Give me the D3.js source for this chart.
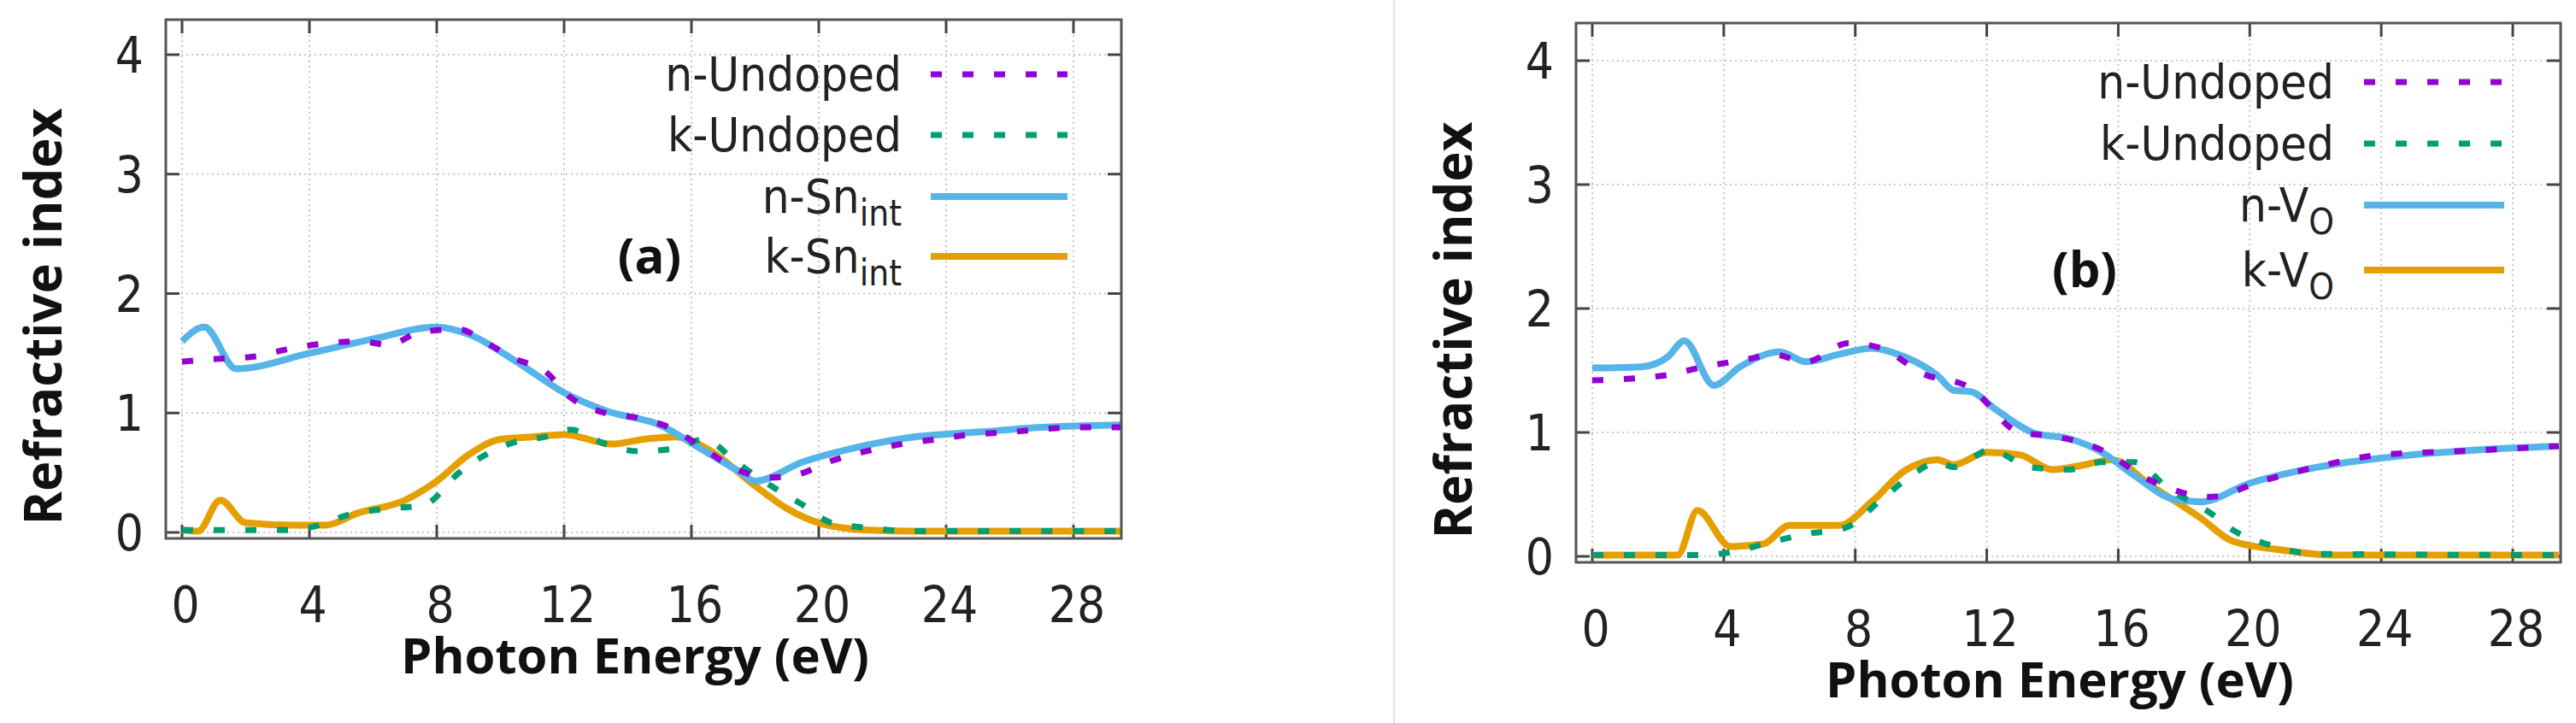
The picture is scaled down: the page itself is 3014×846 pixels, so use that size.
<!DOCTYPE html>
<html><head><meta charset="utf-8">
<script src="https://cdn.jsdelivr.net/npm/d3@7"></script>
<style>
body{margin:0;background:#fff;}
text{font-family:"Liberation Sans Narrow","DejaVu Sans Condensed","DejaVu Sans",sans-serif;font-stretch:condensed;}
.bold{font-family:"Open Sans","DejaVu Sans",sans-serif;font-weight:bold;font-stretch:normal;}
</style></head><body>
<div id="chart"></div>
<script>
// energy (eV), value pairs
const nUndopedA = [[0,1.43],[0.9,1.45],[2.2,1.47],[3.25,1.53],[4.4,1.58],[5.6,1.6],[6.5,1.57],[7.5,1.68],[8.7,1.70],[9.6,1.58],[10.5,1.45],[11.4,1.35],[12.2,1.13],[13.3,1.0],[14.3,0.96],[15.3,0.88],[16.4,0.7],[17.4,0.53],[18.5,0.46],[19.4,0.49],[20.3,0.59],[21.5,0.68],[22.6,0.74],[23.7,0.78],[24.8,0.82],[26,0.84],[27.2,0.87],[28.3,0.88],[29.5,0.88]];
const kUndopedA = [[0,0.02],[3.5,0.02],[4,0.04],[5.4,0.16],[6.5,0.2],[7.6,0.23],[8.7,0.5],[9.6,0.66],[10.5,0.76],[11.4,0.8],[12.2,0.86],[13.3,0.74],[14.3,0.68],[15.4,0.7],[16.4,0.78],[17.4,0.59],[18.5,0.39],[19.5,0.23],[20.4,0.08],[21.5,0.04],[23,0.01],[29.5,0.01]];
const nSnA = [[0,1.6],[0.7,1.72],[1.7,1.37],[4,1.5],[6,1.62],[8,1.72],[9,1.66],[10.5,1.43],[12,1.17],[13.3,1.02],[15,0.9],[16.3,0.7],[17.5,0.51],[18,0.43],[19.5,0.59],[21,0.7],[23,0.8],[25,0.84],[27,0.88],[29.5,0.9]];
const kSnA = [[0,0.02],[0.5,0.01],[1.2,0.27],[2,0.08],[3.5,0.06],[4.5,0.06],[5.5,0.16],[7,0.27],[8,0.43],[9,0.65],[10,0.78],[11,0.8],[12,0.82],[13.5,0.74],[14.5,0.78],[15.5,0.8],[16.5,0.7],[18,0.39],[19,0.2],[20,0.08],[21.5,0.02],[23,0.01],[29.5,0.01]];

const nUndopedB = [[0,1.42],[2.2,1.46],[3.4,1.53],[4.7,1.59],[5.5,1.63],[6.5,1.57],[7.8,1.72],[8.8,1.68],[10,1.48],[11.5,1.36],[13,1.0],[14,0.97],[15.4,0.87],[17,0.61],[18.8,0.48],[20.4,0.61],[22,0.72],[24,0.82],[26.5,0.85],[29.4,0.89]];
const kUndopedB = [[0,0.01],[2.2,0.01],[3.4,0.01],[4.5,0.05],[5.5,0.12],[6.5,0.18],[7.7,0.23],[8.8,0.46],[9.8,0.67],[10.5,0.76],[11,0.72],[12.1,0.86],[13.3,0.72],[14.5,0.7],[15.5,0.76],[16.5,0.76],[17.5,0.55],[18.8,0.35],[19.5,0.21],[20.5,0.1],[22,0.02],[29.4,0.01]];
const nVoB = [[0,1.52],[1.5,1.53],[2.3,1.61],[2.8,1.74],[3.7,1.38],[4.5,1.53],[5.7,1.65],[6.5,1.57],[7.5,1.63],[8.5,1.68],[9.5,1.61],[10.5,1.46],[11,1.34],[11.5,1.33],[12.3,1.18],[13.5,0.99],[14.5,0.95],[15.5,0.84],[16.5,0.65],[17.7,0.46],[18.5,0.44],[20,0.59],[21.5,0.69],[23,0.76],[25,0.82],[27,0.86],[29.4,0.89]];
const kVoB = [[0,0.01],[2.6,0.01],[3.2,0.37],[4.2,0.08],[5.2,0.1],[6,0.25],[7.5,0.25],[8.5,0.44],[9.5,0.69],[10.5,0.78],[11,0.74],[12,0.84],[13,0.82],[14,0.7],[15,0.74],[15.8,0.78],[17,0.57],[18.5,0.31],[19.5,0.12],[21,0.05],[22.5,0.01],[29.4,0.01]];

const xTicks = [0,4,8,12,16,20,24,28];
const yTicks = [0,1,2,3,4];

const W = 3014, H = 846;
const svg = d3.select("#chart").append("svg").attr("width", W).attr("height", H);

svg.append("line").attr("x1",1631).attr("x2",1631).attr("y1",0).attr("y2",846)
  .attr("stroke","#e4e4e4").attr("stroke-width",2);

const panels = [
  {left:194, right:1312, top:23, bottom:630, x0:213, x28:1256, y0:623, y4:64,
   series:[
     {name:"n-Undoped", data:nUndopedA, color:"#9400d3", dash:true},
     {name:"k-Undoped", data:kUndopedA, color:"#009e73", dash:true},
     {name:"n-Sn", sub:"int", data:nSnA, color:"#56b4e9"},
     {name:"k-Sn", sub:"int", data:kSnA, color:"#e69f00"}],
   label:"(a)", labelX:760, legX:1055, legY:[87,158,230,300], sampleX:[1089,1249]},
  {left:1844, right:2996, top:27, bottom:658, x0:1863, x28:2940, y0:651, y4:71,
   series:[
     {name:"n-Undoped", data:nUndopedB, color:"#9400d3", dash:true},
     {name:"k-Undoped", data:kUndopedB, color:"#009e73", dash:true},
     {name:"n-V", sub:"O", data:nVoB, color:"#56b4e9"},
     {name:"k-V", sub:"O", data:kVoB, color:"#e69f00"}],
   label:"(b)", labelX:2439, legX:2731, legY:[96,168,240,316], sampleX:[2766,2930]}
];

panels.forEach(p => {
  const x = d3.scaleLinear().domain([0,28]).range([p.x0,p.x28]);
  const y = d3.scaleLinear().domain([0,4]).range([p.y0,p.y4]);
  const g = svg.append("g");

  // grid
  g.selectAll(".gx").data(xTicks).join("line")
    .attr("x1",d=>x(d)).attr("x2",d=>x(d)).attr("y1",p.top).attr("y2",p.bottom)
    .attr("stroke","#c8c8c8").attr("stroke-width",2).attr("stroke-dasharray","2,4");
  g.selectAll(".gy").data(yTicks).join("line")
    .attr("x1",p.left).attr("x2",p.right).attr("y1",d=>y(d)).attr("y2",d=>y(d))
    .attr("stroke","#c8c8c8").attr("stroke-width",2).attr("stroke-dasharray","2,4");

  // ticks
  g.selectAll(".tx").data(xTicks).join("line")
    .attr("x1",d=>x(d)).attr("x2",d=>x(d)).attr("y1",p.bottom).attr("y2",p.bottom-16)
    .attr("stroke","#444").attr("stroke-width",3);
  g.selectAll(".tx2").data(xTicks).join("line")
    .attr("x1",d=>x(d)).attr("x2",d=>x(d)).attr("y1",p.top).attr("y2",p.top+16)
    .attr("stroke","#444").attr("stroke-width",3);
  g.selectAll(".ty").data(yTicks).join("line")
    .attr("x1",p.left).attr("x2",p.left+16).attr("y1",d=>y(d)).attr("y2",d=>y(d))
    .attr("stroke","#444").attr("stroke-width",3);
  g.selectAll(".ty2").data(yTicks).join("line")
    .attr("x1",p.right).attr("x2",p.right-16).attr("y1",d=>y(d)).attr("y2",d=>y(d))
    .attr("stroke","#444").attr("stroke-width",3);

  // tick labels
  g.selectAll(".lx").data(xTicks).join("text")
    .attr("x",d=>x(d)+4).attr("y",p.bottom+98).attr("text-anchor","middle")
    .attr("font-size",58).attr("fill","#222").text(d=>d);
  g.selectAll(".ly").data(yTicks).join("text")
    .attr("x",p.left-26).attr("y",d=>y(d)+21).attr("text-anchor","end")
    .attr("font-size",58).attr("fill","#222").text(d=>d);

  // axis titles
  g.append("text").attr("class","bold").attr("x",(p.left+p.right)/2 - 10).attr("y",p.bottom+158)
    .attr("text-anchor","middle").attr("font-size",58).attr("fill","#111").text("Photon Energy (eV)");
  g.append("text").attr("class","bold")
    .attr("transform",`translate(${p.left-122},${(p.top+p.bottom)/2+44}) rotate(-90)`)
    .attr("text-anchor","middle").attr("font-size",60).attr("fill","#111").text("Refractive index");

  // curves
  const line = d3.line().x(d=>x(d[0])).y(d=>y(d[1])).curve(d3.curveMonotoneX);
  const clip = "clip" + p.label.replace(/\W/g,"");
  svg.append("clipPath").attr("id",clip).append("rect")
    .attr("x",p.left).attr("y",p.top).attr("width",p.right-p.left).attr("height",p.bottom-p.top);
  const cg = g.append("g").attr("clip-path",`url(#${clip})`);
  p.series.slice().reverse().forEach(s => {
    cg.append("path").datum(s.data).attr("d",line).attr("fill","none")
      .attr("stroke",s.color).attr("stroke-width",s.dash?7:8)
      .attr("stroke-dasharray",s.dash?"13,24":null)
      .attr("stroke-linejoin","round");
  });

  // frame
  g.append("rect").attr("x",p.left).attr("y",p.top).attr("width",p.right-p.left).attr("height",p.bottom-p.top)
    .attr("fill","none").attr("stroke","#555").attr("stroke-width",3);

  // legend
  p.series.forEach((s,i) => {
    const t = g.append("text").attr("x",p.legX).attr("y",p.legY[i]+19).attr("text-anchor","end")
      .attr("font-size",56).attr("fill","#222");
    t.append("tspan").text(s.name);
    if (s.sub) t.append("tspan").attr("dy",15).attr("font-size",42).text(s.sub);
    g.append("line").attr("x1",p.sampleX[0]).attr("x2",p.sampleX[1])
      .attr("y1",p.legY[i]).attr("y2",p.legY[i]).attr("stroke",s.color)
      .attr("stroke-width",s.dash?7:8).attr("stroke-dasharray",s.dash?"13,24":null);
  });
  g.append("text").attr("class","bold").attr("x",p.labelX).attr("y",p.legY[3]+20)
    .attr("text-anchor","middle").attr("font-size",58).attr("fill","#111").text(p.label);
});
</script>
</body></html>
